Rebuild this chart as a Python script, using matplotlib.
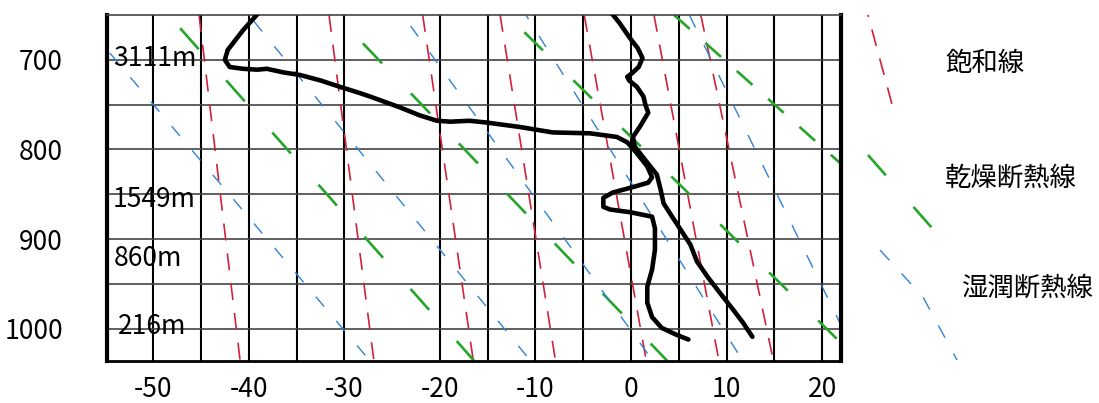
import matplotlib
matplotlib.use('Agg')
import matplotlib.pyplot as plt

# 気圧範囲 (hPa)
p_top = 650
p_bot = 1036

# 飽和線 (上端・下端の気温)
sat_t_top = [-45.2, -31.6, -21.8, -13.7, -4.9, 2.4, 7.3]
sat_t_bot = [-40.9, -26.9, -16.5, -7.9, 1.6, 9.2, 14.9]

# 乾燥断熱線
dry_t_top = [-48.4, -30.9, -13.0, 4.5]
dry_t_bot = [-16.4, 3.8, 23.9, 45.1]

# 湿潤断熱線
moist_t_top = [-57.9, -40.0, -23.9, -11.0, 6.1]
moist_t_bot = [-27.3, -10.5, 2.3, 11.7, 23.8]

# 露点の曲線
dew_t = [-39.0, -40.6, -42.2, -42.5, -42.0, -40.6, -39.1, -38.1, -36.4, -34.6,
         -32.5, -30.5, -28.4, -27.3, -24.2, -22.1, -20.3, -18.9, -16.9, -15.1,
         -11.6, -8.2, -4.3, -1.5, -0.4, 0.6, 1.7, 2.2, 1.8, 0.2,
         -1.9, -2.9, -2.9, -2.2, -0.1, 2.2, 2.5, 2.5, 2.2, 1.7,
         1.7, 2.2, 3.2, 4.8, 6.0]
dew_p = [648, 667, 689, 700, 708, 710, 711, 710, 714, 717,
         723, 730, 737, 741, 753, 762, 768, 769, 768, 770,
         775, 781, 782, 786, 792, 804, 819, 831, 837, 842,
         848, 854, 864, 867, 870, 875, 888, 912, 934, 953,
         971, 987, 999, 1007, 1012]

# 気温の曲線
temp_t = [-2.1, -1.2, -0.1, 0.7, 1.2, 0.8, 0.1, -0.4, -0.2, 0.6,
          1.3, 1.5, 1.8, 0.9, 0.2, 0.4, 1.5, 2.7, 3.1, 3.4,
          4.3, 5.4, 6.2, 6.9, 8.0, 9.3, 10.7, 11.7, 12.7]
temp_p = [647, 659, 676, 687, 698, 708, 715, 719, 723, 730,
          741, 750, 759, 775, 786, 797, 812, 828, 845, 860,
          875, 893, 906, 925, 942, 960, 979, 993, 1009]

# 高度ラベル
height_labels = ['3111m', '1549m', '860m', '216m']
height_p = [699, 856, 922, 997]
height_t = [-54.2, -54.2, -54.1, -53.7]

x_ticks = [-50, -40, -30, -20, -10, 0, 10, 20]
y_ticks = [700, 800, 900, 1000]
v_lines = [-50, -45, -40, -35, -30, -20, -15, -10, -5, 0, 5, 10, 15, 20]
h_lines = [700, 750, 800, 850, 900, 950, 1000]

legend_names = ['飽和線', '乾燥断熱線', '湿潤断熱線']

RED = '#d0213d'
GREEN = '#25a62a'
BLUE = '#3083d6'

plt.rcParams['font.family'] = ['Noto Sans CJK JP', 'DejaVu Sans']
plt.rcParams['axes.unicode_minus'] = False
plt.rcParams['lines.scale_dashes'] = False

px = 0.72  # 1px -> pt (dpi 100)

fig = plt.figure(figsize=(10.99, 4.03), dpi=100)

# 凡例用 (ピクセル座標)
ax_leg = fig.add_axes([0, 0, 1, 1])
ax_leg.set_xlim(0, 1099)
ax_leg.set_ylim(403, 0)
ax_leg.axis('off')

ax = fig.add_axes([107.3 / 1099, 42 / 403, 734 / 1099, 346 / 403])
ax.set_xlim(-54.8, 22.0)
ax.set_ylim(p_bot, p_top)

for t in v_lines:
    ax.axvline(t, color='black', lw=1.5, zorder=1)
for p in h_lines:
    ax.axhline(p, color='#444444', lw=1.2, zorder=1)

# 飽和線
for t1, t2 in zip(sat_t_top, sat_t_bot):
    ax.plot([t1, t2], [p_top, p_bot], color=RED, lw=1.2,
            dashes=(17 * px, 13 * px), zorder=2)

# 乾燥断熱線
dry_style = [(52, 28, 41.6), (30, 27.7, 41.6), (44, 26, 42.6), (0, 21, 21)]
for (t1, t2), (off, on, gap) in zip(zip(dry_t_top, dry_t_bot), dry_style):
    ln, = ax.plot([t1, t2], [p_top, p_bot], color=GREEN, lw=1.9, zorder=2)
    ln.set_linestyle((off * px, (on * px, gap * px)))

# 湿潤断熱線
moist_style = [(14, 13, 18.9), (24, 13, 19.2), (19, 13, 19.6), (8, 13, 19.8), (0, 14, 19.4)]
for (t1, t2), (off, on, gap) in zip(zip(moist_t_top, moist_t_bot), moist_style):
    ln, = ax.plot([t1, t2], [p_top, p_bot], color=BLUE, lw=1.0, zorder=2)
    ln.set_linestyle((off * px, (on * px, gap * px)))

# 観測曲線
ax.plot(dew_t, dew_p, color='black', lw=3.3, solid_joinstyle='round',
        solid_capstyle='round', zorder=4)
ax.plot(temp_t, temp_p, color='black', lw=3.3, solid_joinstyle='round',
        solid_capstyle='round', zorder=4)

for lab, t, p in zip(height_labels, height_t, height_p):
    ax.text(t, p, lab, fontsize=19, ha='left', va='center', zorder=5)

ax.set_xticks(x_ticks)
ax.set_xticklabels([str(v) for v in x_ticks])
ax.set_yticks(y_ticks)
ax.set_yticklabels([str(v) for v in y_ticks])
ax.tick_params(axis='both', length=0, labelsize=19)
ax.tick_params(axis='x', pad=11)
ax.tick_params(axis='y', pad=32)

for side in ['left', 'right']:
    ax.spines[side].set_linewidth(3.0)
ax.spines['bottom'].set_linewidth(2.0)
ax.spines['top'].set_linewidth(1.2)
ax.spines['top'].set_color('#444444')

# 凡例
ln, = ax_leg.plot([868, 893], [15, 108], color=RED, lw=1.2)
ln.set_linestyle((15 * px, (17 * px, 13 * px)))
ln, = ax_leg.plot([868, 932], [155, 228], color=GREEN, lw=1.9)
ln.set_linestyle((0, (27 * px, 42 * px)))
ln, = ax_leg.plot([880, 923, 957], [250, 297, 360], color=BLUE, lw=1.0)
ln.set_linestyle((0, (14 * px, 18 * px)))

for name, xp, yp in zip(legend_names, [945, 945, 962], [63, 178, 288]):
    ax_leg.text(xp, yp, name, fontsize=19, ha='left', va='center')

fig.savefig('out.png', dpi=100)
